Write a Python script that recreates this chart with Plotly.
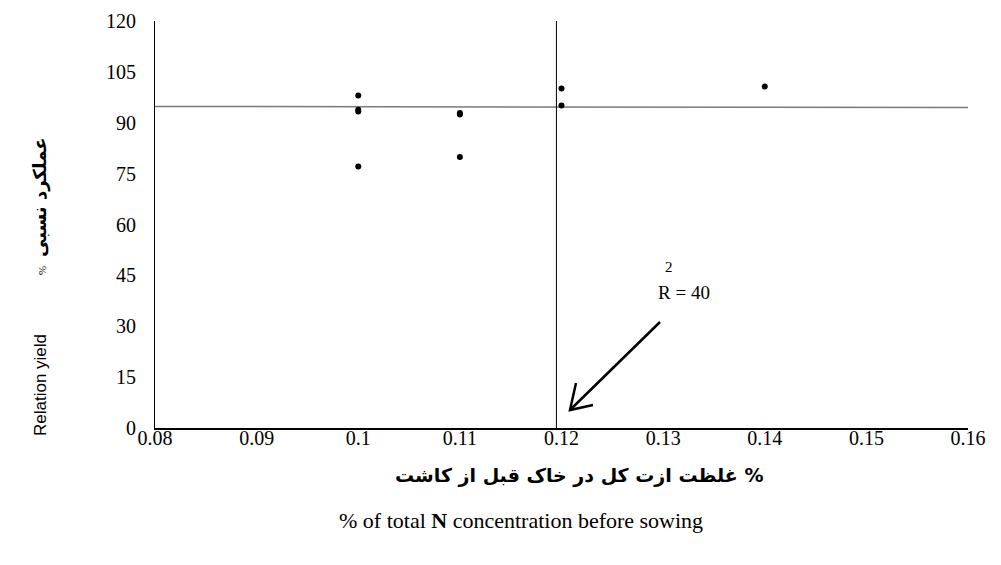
import plotly.graph_objects as go

# Data
n_conc = [0.10, 0.10, 0.10, 0.10, 0.11, 0.11, 0.11, 0.12, 0.12, 0.14]
rel_yield = [98.0, 93.8, 93.3, 77.1, 92.9, 92.4, 79.9, 100.1, 95.1, 100.7]
x_ticks = [0.08, 0.09, 0.10, 0.11, 0.12, 0.13, 0.14, 0.15, 0.16]
x_tick_labels = ["0.08", "0.09", "0.1", "0.11", "0.12", "0.13", "0.14", "0.15", "0.16"]
y_ticks = [0, 15, 30, 45, 60, 75, 90, 105, 120]
critical_x = 0.1195
plateau_x = [0.08, 0.1612]
plateau_y = [94.8, 94.5]
r2_text = "R = 40"

# page body has an 8px margin; work in reference pixel coords and shift
OFF = 8
W, H = 1001 - 2 * OFF, 565 - 2 * OFF
L, R_, T, B = 155, 968, 21, 428   # plot area in reference px
XR = [0.08, 0.16]
YR = [0, 120]

def px2x(px):
    return XR[0] + (px - L) / (R_ - L) * (XR[1] - XR[0])

def py2y(py):
    return YR[0] + (B - py) / (B - T) * (YR[1] - YR[0])

def px2p(px):
    return (px - L) / (R_ - L)

def py2p(py):
    return (B - py) / (B - T)

serif = "Liberation Serif, Times New Roman, serif"
sans = "Liberation Sans, Arial, sans-serif"
arab = "DejaVu Sans, sans-serif"

fig = go.Figure()

# plateau line
fig.add_trace(go.Scatter(x=plateau_x, y=plateau_y, mode="lines",
                         line=dict(color="#7a7a7a", width=1.5),
                         hoverinfo="skip", showlegend=False))
# critical vertical line
fig.add_trace(go.Scatter(x=[critical_x, critical_x], y=[0, 120], mode="lines",
                         line=dict(color="black", width=1),
                         hoverinfo="skip", showlegend=False))
# points
fig.add_trace(go.Scatter(x=n_conc, y=rel_yield, mode="markers",
                         marker=dict(color="black", size=6),
                         showlegend=False))

# arrow shaft and open V head
head_px = (570, 410)
tail_px = (660, 322)
fig.add_trace(go.Scatter(x=[px2x(tail_px[0]), px2x(head_px[0])],
                         y=[py2y(tail_px[1]), py2y(head_px[1])],
                         mode="lines", line=dict(color="black", width=2.5),
                         hoverinfo="skip", showlegend=False))
arm1 = (head_px[0] + 6, head_px[1] - 27)
arm2 = (head_px[0] + 23, head_px[1] - 5)
fig.add_trace(go.Scatter(x=[px2x(arm1[0]), px2x(head_px[0]), px2x(arm2[0])],
                         y=[py2y(arm1[1]), py2y(head_px[1]), py2y(arm2[1])],
                         mode="lines", line=dict(color="black", width=2.5),
                         hoverinfo="skip", showlegend=False))

C = dict(xanchor="center", yanchor="middle", showarrow=False)
ann = []
ann.append(dict(x=px2x(684), y=py2y(292), xref="x", yref="y", text=r2_text,
                font=dict(family=serif, size=19, color="black"), **C))
ann.append(dict(x=px2x(669), y=py2y(267), xref="x", yref="y", text="2",
                font=dict(family=serif, size=15, color="black"), **C))

# y title parts
ann.append(dict(x=px2p(40), y=py2p(385), xref="paper", yref="paper", text="Relation yield",
                textangle=-90, font=dict(family=sans, size=17, color="black"), **C))
ann.append(dict(x=px2p(42), y=py2p(271), xref="paper", yref="paper", text="%",
                textangle=-90, font=dict(family=serif, size=11, color="black"), **C))
ann.append(dict(x=px2p(40), y=py2p(197), xref="paper", yref="paper", text="<b>عملکرد نسبی</b>",
                textangle=-90, font=dict(family=arab, size=18, color="black"), **C))

# x title parts
ann.append(dict(x=px2p(579), y=py2p(475), xref="paper", yref="paper",
                text="<b>غلظت ازت کل در خاک قبل از کاشت %</b>",
                font=dict(family=arab, size=19, color="black"), **C))
ann.append(dict(x=px2p(521), y=py2p(520), xref="paper", yref="paper",
                text="% of total <b>N</b> concentration before sowing",
                font=dict(family=serif, size=22, color="black"), **C))

fig.update_layout(
    width=W, height=H,
    margin=dict(l=L - OFF, r=W - (R_ - OFF), t=T - OFF, b=H - (B - OFF)),
    paper_bgcolor="white", plot_bgcolor="white",
    annotations=ann,
    xaxis=dict(range=XR, tickvals=x_ticks, ticktext=x_tick_labels, automargin=False,
               showgrid=False, zeroline=False, showline=True, linecolor="black", linewidth=1.5,
               ticks="", ticklabelstandoff=-9,
               tickfont=dict(family=serif, size=20, color="black")),
    yaxis=dict(range=YR, tickvals=y_ticks, showgrid=False, zeroline=False, automargin=False,
               showline=True, linecolor="black", linewidth=1, ticks="",
               ticklabelstandoff=14,
               tickfont=dict(family=serif, size=20, color="black")),
)

fig.write_html("out.html")
